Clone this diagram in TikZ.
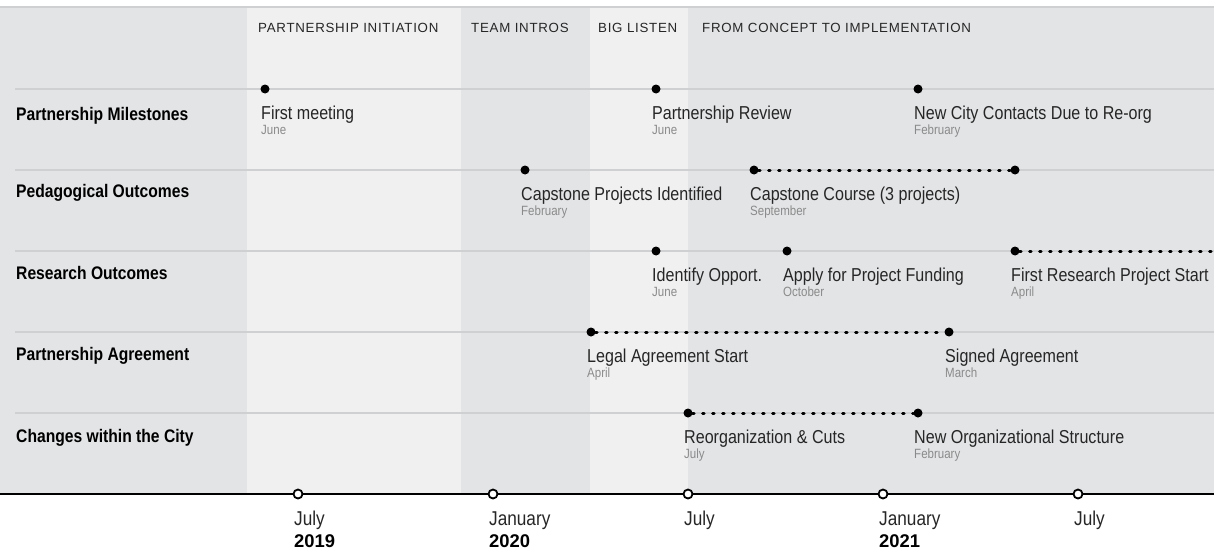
\documentclass[tikz,border=0pt]{standalone}
\usepackage{fontspec}
\setmainfont{Liberation Sans}[FakeStretch=0.86]
\newfontfamily\phasefont{Liberation Sans}[LetterSpace=5.5]
\newfontfamily\yearfont{Liberation Sans}
\usetikzlibrary{positioning}
\definecolor{bandgray}{HTML}{E3E4E6}
\definecolor{bandlight}{HTML}{F0F0F0}
\definecolor{rowline}{HTML}{CFD0D2}
\definecolor{monthgray}{HTML}{8A8A8A}

\begin{document}
\begin{tikzpicture}[x=1pt,y=-1pt,
        row label/.style={anchor=base west,inner sep=0pt,font=\fontsize{18.2}{20}\selectfont\bfseries},
        phase/.style={anchor=base west,inner sep=0pt,font=\phasefont\fontsize{13.3}{16}\selectfont,text=black!85},
        event dot/.style={circle,fill=black,inner sep=0pt,minimum size=9pt},
        event/.style={anchor=base west,inner sep=0pt,font=\fontsize{18.7}{20}\selectfont,text=black!85},
        month/.style={anchor=base west,inner sep=0pt,font=\fontsize{13.4}{15}\selectfont,text=monthgray},
        tick/.style={circle,draw=black,fill=white,line width=1.8pt,inner sep=0pt,minimum size=9pt},
        axis label/.style={anchor=base west,inner sep=0pt,font=\fontsize{20}{22}\selectfont,text=black!85},
        year label/.style={anchor=base west,inner sep=0pt,font=\yearfont\fontsize{18.4}{20}\selectfont\bfseries},
        span/.style={line width=3pt,line cap=round,dash pattern=on 1.4pt off 8.6pt}]

        \useasboundingbox (0,0) rectangle (1214,554);
        \fill[bandgray] (0,7) rectangle (1214,494);
        \fill[bandlight] (247,7) rectangle (461,494);
        \fill[bandlight] (590,7) rectangle (688,494);
        \draw[rowline,line width=2pt] (0,7) -- (1214,7);
        \foreach \y in {89,170,251,332,413}
            \draw[rowline,line width=2pt] (15,\y) -- (1214,\y);

        \node[phase] (p1) at (258,32) {PARTNERSHIP INITIATION};
        \node[phase] (p2) at (471,32) {TEAM INTROS};
        \node[phase] (p3) at (598,32) {BIG LISTEN};
        \node[phase] (p4) at (702,32) {FROM CONCEPT TO IMPLEMENTATION};

        \node[row label] (r1) at (16,120) {Partnership Milestones};
        \node[row label] (r2) at (16,197) {Pedagogical Outcomes};
        \node[row label] (r3) at (16,279) {Research Outcomes};
        \node[row label] (r4) at (16,360) {Partnership Agreement};
        \node[row label] (r5) at (16,442) {Changes within the City};

        \foreach \x/\r/\n/\t/\m in {265/89/fm/First meeting/June,
                656/89/pr/Partnership Review/June,
                918/89/nc/New City Contacts Due to Re-org/February,
                525/170/cp/Capstone Projects Identified/February,
                754/170/cc/Capstone Course (3 projects)/September,
                656/251/io/Identify Opport./June,
                787/251/ap/Apply for Project Funding/October,
                1015/251/fr/First Research Project Start/April,
                591/332/la/Legal Agreement Start/April,
                949/332/sa/Signed Agreement/March,
                688/413/ro/Reorganization \& Cuts/July,
                918/413/no/New Organizational Structure/February} {
            \node[event dot] (\n) at (\x,\r) {};
            \node[event] (\n-t) at ([xshift=-4pt,yshift=-30pt]\n.center) {\t};
            \node[month] (\n-m) at ([xshift=-4pt,yshift=-45pt]\n.center) {\m};
        }
        \node[event dot] (cc-end) at (1015,170) {};
        \coordinate (fr-end) at (1218,251);

        \draw[span] (cc) -- (cc-end);
        \draw[span] (fr) -- (fr-end);
        \draw[span] (la) -- (sa);
        \draw[span] (ro) -- (no);

        \coordinate (ax-l) at (0,494);
        \coordinate (ax-r) at (1214,494);
        \draw[line width=2.2pt] (ax-l) -- (ax-r);
        \foreach \x/\n/\mo/\yr in {298/t1/July/2019, 493/t2/January/2020,
                688/t3/July/, 883/t4/January/2021, 1078/t5/July/} {
            \node[tick] (\n) at (\x,494) {};
            \node[axis label] (\n-m) at ([xshift=-4pt,yshift=-31pt]\n.center) {\mo};
            \node[year label] (\n-y) at ([xshift=-4pt,yshift=-53pt]\n.center) {\yr};
        }
\end{tikzpicture}
\end{document}
